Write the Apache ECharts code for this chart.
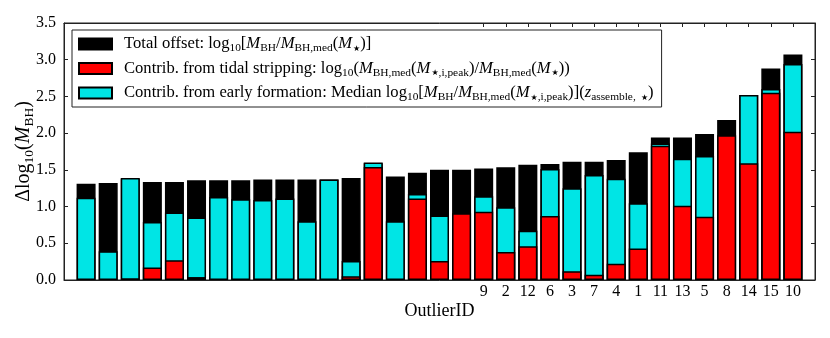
<!DOCTYPE html>
<html>
<head>
<meta charset="utf-8">
<script src="https://cdn.jsdelivr.net/npm/echarts@6/dist/echarts.min.js"></script>
<style>
html, body { margin: 0; padding: 0; background: #fff; }
#main { width: 830px; height: 338px; }
</style>
</head>
<body>
<div id="main"></div>
<script>
// one entry per outlier, sorted by total offset
var outlierIds = ['', '', '', '', '', '', '', '', '', '', '', '', '', '', '', '', '', '',
	'9', '2', '12', '6', '3', '7', '4', '1', '11', '13', '5', '8', '14', '15', '10'];
var totalOffset = [1.31, 1.32, 1.38, 1.335, 1.335, 1.36, 1.36, 1.36, 1.37, 1.37, 1.37, 1.37, 1.39, 1.59, 1.41, 1.46, 1.50,
	1.50, 1.52, 1.535, 1.57, 1.58, 1.61, 1.61, 1.635, 1.74, 1.94, 1.94, 1.99, 2.18, 2.52, 2.88, 3.07];
var earlyFormation = [1.12, 0.39, 1.39, 0.79, 0.92, 0.85, 1.13, 1.10, 1.09, 1.11, 0.80, 1.37, 0.26, 1.60, 0.80, 1.17, 0.88,
	null, 1.14, 0.99, 0.67, 1.51, 1.25, 1.43, 1.38, 1.045, 1.86, 1.65, 1.69, null, 2.52, 2.60, 2.94];
var tidalStripping = [null, null, 0.02, 0.17, 0.27, 0.04, null, null, null, null, null, null, 0.05, 1.54, null, 1.11, 0.26,
	0.91, 0.93, 0.38, 0.46, 0.87, 0.12, 0.07, 0.22, 0.43, 1.83, 1.01, 0.86, 1.97, 1.59, 2.55, 2.02];

var SERIF = 'Liberation Serif, DejaVu Serif, serif';

var legendText = {
	'total': 'Total offset: log{s|10}[{i|M}{s|BH}/{i|M}{s|BH,med}({i|M}{st|★})]',
	'tidal': 'Contrib. from tidal stripping: log{s|10}({i|M}{s|BH,med}({i|M}{st|★}{s|,i,peak})/{i|M}{s|BH,med}({i|M}{st|★}))',
	'early': 'Contrib. from early formation: Median log{s|10}[{i|M}{s|BH}/{i|M}{s|BH,med}({i|M}{st|★}{s|,i,peak})]({i|z}{s|assemble,} {st|★})'
};

var rich = {
	i: { fontStyle: 'italic', fontFamily: SERIF, fontSize: 16.6, lineHeight: 20, color: '#000' },
	s: { fontFamily: SERIF, fontSize: 11.4, lineHeight: 11, padding: [9, 0, 0, 0], color: '#000' },
	st: { fontFamily: 'DejaVu Sans', fontSize: 8, lineHeight: 11, padding: [9, 0, 0, 1], color: '#000' },
	sp: { width: 7 }
};

// indices that carry an outlier id label
var labeled = [];
outlierIds.forEach(function(id, i){
	if(id !== ''){
		labeled.push(i);
	}
});

function toPoints(arr){
	var out = [];
	arr.forEach(function(v, i){
		if(v !== null){
			out.push([i, v]);
		}
	});
	return out;
}

var chart = echarts.init(document.getElementById('main'));

var barBorder = { borderColor: '#000', borderWidth: 1.5 };
var frameLine = { show: true, onZero: false, lineStyle: { color: '#222', width: 1 } };

var option = {
	animation: false,
	backgroundColor: '#fff',
	grid: {
		left: 64, right: 15, top: 23, bottom: 58,
		outerBoundsMode: 'none', containLabel: false,
		show: true, borderColor: '#222', borderWidth: 1, backgroundColor: 'transparent'
	},
	legend: {
		data: ['total', 'tidal', 'early'],
		orient: 'vertical',
		left: 72, top: 30,
		padding: [4, 8, 4, 6],
		itemWidth: 33, itemHeight: 11, itemGap: 4.5,
		icon: 'rect',
		backgroundColor: '#fff',
		borderColor: '#222', borderWidth: 1, borderRadius: 0,
		selectedMode: false,
		formatter: function(name){ return '{sp|}' + legendText[name]; },
		textStyle: { fontFamily: SERIF, fontSize: 16.6, lineHeight: 20, color: '#000', rich: rich }
	},
	xAxis: [
		{
			type: 'value', min: -1, max: 33, position: 'bottom',
			name: 'OutlierID', nameLocation: 'middle', nameGap: 22, nameMoveOverlap: false,
			nameTextStyle: { fontFamily: SERIF, fontSize: 18, color: '#000' },
			axisLine: frameLine,
			axisTick: { show: true, inside: true, length: 4, customValues: labeled, lineStyle: { color: '#222' } },
			axisLabel: {
				customValues: labeled, margin: 4,
				fontFamily: SERIF, fontSize: 16, color: '#000',
				formatter: function(v){ return outlierIds[Math.round(v)]; }
			},
			splitLine: { show: false }
		},
		{
			type: 'value', min: -1, max: 33, position: 'top',
			axisLine: frameLine,
			axisTick: { show: true, inside: true, length: 4, customValues: labeled, lineStyle: { color: '#222' } },
			axisLabel: { show: false },
			splitLine: { show: false }
		}
	],
	yAxis: [
		{
			type: 'value', min: 0, max: 3.5, interval: 0.5, position: 'left',
			name: 'Δlog{s|10}({i|M}{s|BH})', nameLocation: 'middle', nameGap: 28, nameMoveOverlap: false,
			nameTextStyle: { fontFamily: SERIF, fontSize: 20, lineHeight: 24, color: '#000',
				rich: {
					i: { fontStyle: 'italic', fontFamily: SERIF, fontSize: 20, lineHeight: 24, color: '#000' },
					s: { fontFamily: SERIF, fontSize: 13.5, lineHeight: 13, padding: [11, 0, 0, 0], color: '#000' }
				}
			},
			axisLine: frameLine,
			axisTick: { show: true, inside: true, length: 4, lineStyle: { color: '#222' } },
			axisLabel: {
				margin: 8, fontFamily: SERIF, fontSize: 16, color: '#000',
				formatter: function(v){ return v.toFixed(1); }
			},
			splitLine: { show: false }
		},
		{
			type: 'value', min: 0, max: 3.5, interval: 0.5, position: 'right',
			axisLine: frameLine,
			axisTick: { show: true, inside: true, length: 4, lineStyle: { color: '#222' } },
			axisLabel: { show: false },
			splitLine: { show: false }
		}
	],
	series: [
		{
			name: 'total', type: 'bar', xAxisIndex: 0, yAxisIndex: 0,
			barWidth: 19, barGap: '-100%',
			itemStyle: Object.assign({ color: '#000' }, barBorder),
			data: toPoints(totalOffset)
		},
		{
			name: 'early', type: 'bar', xAxisIndex: 0, yAxisIndex: 0,
			barWidth: 19, barGap: '-100%',
			itemStyle: Object.assign({ color: '#00e5e5' }, barBorder),
			data: toPoints(earlyFormation)
		},
		{
			name: 'tidal', type: 'bar', xAxisIndex: 0, yAxisIndex: 0,
			barWidth: 19, barGap: '-100%',
			itemStyle: Object.assign({ color: '#ff0000' }, barBorder),
			data: toPoints(tidalStripping)
		}
	]
};

chart.setOption(option);
</script>
</body>
</html>
